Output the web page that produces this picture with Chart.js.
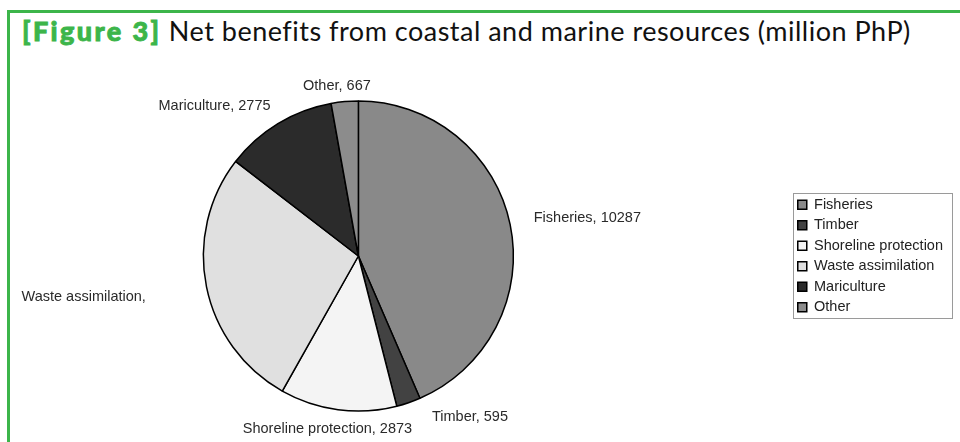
<!DOCTYPE html>
<html>
<head>
<meta charset="utf-8">
<script src="https://cdn.jsdelivr.net/npm/chart.js@4/dist/chart.umd.min.js"></script>
<style>
  html, body { margin: 0; padding: 0; background: #fff; width: 960px; height: 442px; overflow: hidden; }
  #frame { position: absolute; left: 7px; top: 10px; width: 960px; height: 440px;
           border-top: 3px solid #3cb54a; border-left: 3px solid #3cb54a; box-sizing: border-box; }
  #title { position: absolute; left: 22px; top: 14px; font-family: Lato, "Open Sans", sans-serif;
           font-size: 27px; letter-spacing: 0.5px; color: #111; white-space: nowrap; }
  #title b { color: #3cb54a; font-weight: 900; letter-spacing: 2.4px; -webkit-text-stroke: 0.9px #3cb54a; }
  #wrap { position: absolute; left: -75px; top: 60px; width: 1035px; height: 392px; }
</style>
</head>
<body>
<div id="frame"></div>
<div id="title"><b>[Figure 3]</b> Net benefits from coastal and marine resources (million PhP)</div>
<div id="wrap"><canvas id="c" width="1035" height="392"></canvas></div>
<script>
const categories = ["Fisheries", "Timber", "Shoreline protection", "Waste assimilation", "Mariculture", "Other"];
const values = [10287, 595, 2873, 6450, 2775, 667];
const sliceColors = ["#898989", "#424242", "#f4f4f4", "#e0e0e0", "#2b2b2b", "#8c8c8c"];
const hiddenValueLabels = [3];

const pieLabels = {
  id: 'pieLabels',
  afterDatasetsDraw(chart, args, opts) {
    const ctx = chart.ctx;
    const meta = chart.getDatasetMeta(0);
    ctx.save();
    ctx.font = opts.font;
    ctx.fillStyle = opts.color;
    ctx.textBaseline = 'middle';
    meta.data.forEach((arc, i) => {
      const p = arc.getProps(['x', 'y', 'startAngle', 'endAngle', 'outerRadius'], true);
      const mid = (p.startAngle + p.endAngle) / 2;
      const cx = Math.cos(mid), sy = Math.sin(mid);
      const d = p.outerRadius + opts.distance;
      let px = p.x + cx * d, py = p.y + sy * d;
      const adj = opts.adjust[i];
      if (adj) { px += adj[0]; py += adj[1]; }
      ctx.textAlign = Math.abs(cx) < 0.2 ? 'center' : (cx > 0 ? 'left' : 'right');
      const v = chart.data.datasets[0].data[i];
      const text = chart.data.labels[i] + ', ' + (hiddenValueLabels.includes(i) ? '' : String(v));
      ctx.fillText(text.trim(), px, py);
    });
    ctx.restore();
  }
};

const legendFrame = {
  id: 'legendFrame',
  afterDraw(chart) {
    const boxes = chart.legend && chart.legend.legendHitBoxes;
    if (!boxes || !boxes.length) return;
    let l = Infinity, t = Infinity, r = -Infinity, b = -Infinity;
    boxes.forEach(h => { l = Math.min(l, h.left); t = Math.min(t, h.top); r = Math.max(r, h.left + h.width); b = Math.max(b, h.top + h.height); });
    const ctx = chart.ctx;
    ctx.save();
    ctx.strokeStyle = '#9a9a9a';
    ctx.lineWidth = 1;
    ctx.strokeRect(Math.round(l - 5) + 0.5, Math.round(t - 5) + 0.5, Math.round(r - l + 14), Math.round(b - t + 8));
    ctx.restore();
  }
};

new Chart(document.getElementById('c'), {
  type: 'pie',
  data: {
    labels: categories,
    datasets: [{
      data: values,
      backgroundColor: sliceColors,
      borderColor: '#000',
      borderWidth: 1.5
    }]
  },
  plugins: [pieLabels, legendFrame],
  options: {
    responsive: false,
    devicePixelRatio: 1,
    animation: false,
    radius: 155,
    layout: { padding: { left: 0, right: 7, top: 0, bottom: 0 } },
    plugins: {
      tooltip: { enabled: false },
      legend: {
        position: 'right',
        labels: {
          boxWidth: 9,
          boxHeight: 9,
          padding: 6,
          color: '#222',
          font: { family: '"Liberation Sans", Arial, sans-serif', size: 14.5 }
        }
      },
      pieLabels: {
        font: '14.5px "Liberation Sans", Arial, sans-serif',
        color: '#2a2a2a',
        distance: 20,
        adjust: { 0: [4, -3], 1: [17, -5], 2: [-8, 0], 3: [-41, 6], 4: [3, 0], 5: [-6, 4] }
      }
    }
  }
});
</script>
</body>
</html>
